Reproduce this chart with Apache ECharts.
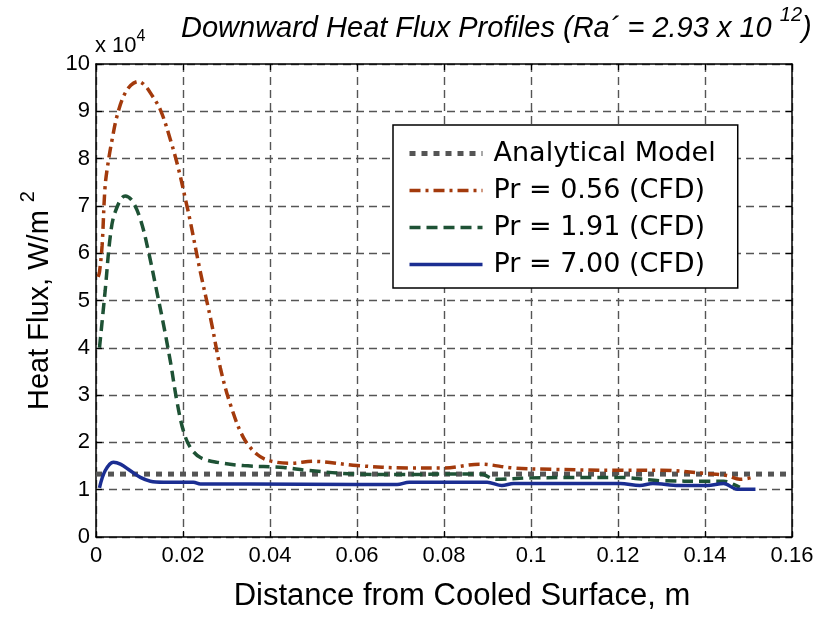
<!DOCTYPE html>
<html>
<head>
<meta charset="utf-8">
<script src="https://cdn.jsdelivr.net/npm/echarts@6/dist/echarts.min.js"></script>
<style>html,body{margin:0;padding:0;background:#fff;}#c{width:823px;height:617px;}</style>
</head>
<body>
<div id="c"></div>
<script>
var xTicks = [0, 0.02, 0.04, 0.06, 0.08, 0.1, 0.12, 0.14, 0.16];
var yTicks = [0, 1, 2, 3, 4, 5, 6, 7, 8, 9, 10];

var analyticalX = [0, 0.16];
var analyticalY = [1.33, 1.33];

var pr056X = [0.0005, 0.0008, 0.0014, 0.0021, 0.0029, 0.0037, 0.0048, 0.0063, 0.0080, 0.0098, 0.0112, 0.0125, 0.0148, 0.0171, 0.0190, 0.0209, 0.0217, 0.0240, 0.0265, 0.0286, 0.0309, 0.0339, 0.0370, 0.0400, 0.0447, 0.0500, 0.0600, 0.0715, 0.0800, 0.0883, 0.0959, 0.1050, 0.1200, 0.1300, 0.1405, 0.1450, 0.1480, 0.1510];
var pr056Y = [5.5, 5.6, 6.16, 7.42, 7.98, 8.40, 8.89, 9.31, 9.55, 9.63, 9.55, 9.39, 9.03, 8.40, 7.77, 7.0, 6.66, 5.6, 4.55, 3.57, 2.80, 2.10, 1.75, 1.61, 1.56, 1.60, 1.51, 1.46, 1.46, 1.54, 1.46, 1.43, 1.41, 1.41, 1.34, 1.30, 1.22, 1.26];

var pr191X = [0.0008, 0.0021, 0.0033, 0.0044, 0.0067, 0.0083, 0.0102, 0.0121, 0.0140, 0.0155, 0.0171, 0.0186, 0.0201, 0.0217, 0.0240, 0.0278, 0.0339, 0.0431, 0.0485, 0.0600, 0.0715, 0.0800, 0.0883, 0.0920, 0.1000, 0.1200, 0.1300, 0.1405, 0.1443, 0.1466, 0.1480];
var pr191Y = [4.0, 5.2, 6.37, 6.87, 7.21, 7.11, 6.72, 6.02, 5.18, 4.50, 3.71, 2.87, 2.24, 1.89, 1.68, 1.58, 1.51, 1.47, 1.41, 1.33, 1.32, 1.33, 1.33, 1.22, 1.25, 1.26, 1.19, 1.18, 1.18, 1.11, 1.05];

var pr700X = [0.0008, 0.0021, 0.0040, 0.0056, 0.0079, 0.0102, 0.0125, 0.0155, 0.0224, 0.0240, 0.0355, 0.0600, 0.0692, 0.0720, 0.0899, 0.0933, 0.0960, 0.1000, 0.1205, 0.1250, 0.1280, 0.1340, 0.1405, 0.1443, 0.1474, 0.1516];
var pr700Y = [1.04, 1.40, 1.58, 1.54, 1.40, 1.26, 1.18, 1.16, 1.16, 1.12, 1.12, 1.11, 1.11, 1.16, 1.16, 1.09, 1.13, 1.13, 1.13, 1.09, 1.13, 1.09, 1.09, 1.13, 1.01, 1.01];

var seriesNames = ['Analytical Model', 'Pr = 0.56 (CFD)', 'Pr = 1.91 (CFD)', 'Pr = 7.00 (CFD)'];

function pairs(xs, ys) { return xs.map(function (x, i) { return [x, ys[i]]; }); }

var FONT = 'Liberation Sans, Arial, sans-serif';
var gridLine = { show: true, lineStyle: { color: '#555', width: 1.4, type: [8, 5] } };
var hiddenSym = { opacity: 0, borderWidth: 0 };

var chart = echarts.init(document.getElementById('c'), null, { renderer: 'canvas' });
var option = {
  animation: false,
  backgroundColor: '#fff',
  title: {
    text: '{t|Downward Heat Flux Profiles (Ra\u00b4 = 2.93 x 10 }{s|12}{t|)}',
    left: 176, top: 0,
    textStyle: {
      fontWeight: 'normal',
      rich: {
        t: { fontFamily: FONT, fontStyle: 'italic', fontWeight: 'normal', fontSize: 29, color: '#000', lineHeight: 38, verticalAlign: 'bottom' },
        s: { fontFamily: FONT, fontStyle: 'italic', fontWeight: 'normal', fontSize: 20, color: '#000', lineHeight: 38, verticalAlign: 'top' }
      }
    }
  },
  graphic: [{
    type: 'text', left: 95, top: 29,
    style: { text: '{a|x 10}{b|4}', rich: { a: { fontFamily: FONT, fontSize: 22, fill: '#000', lineHeight: 28, verticalAlign: 'bottom' }, b: { fontFamily: FONT, fontSize: 16, fill: '#000', lineHeight: 28, verticalAlign: 'top' } } }
  }],
  grid: { left: 96, right: 31, top: 64, bottom: 77, containLabel: false },
  legend: {
    orient: 'vertical', left: 393, top: 125,
    padding: [15, 22, 10, 14],
    itemGap: 10, itemWidth: 73, itemHeight: 14,
    backgroundColor: '#fff', borderColor: '#000', borderWidth: 1.5,
    textStyle: { fontFamily: 'DejaVu Sans', fontSize: 27, color: '#000', lineHeight: 27, padding: [0, 0, 0, 6] },
    data: [
      { name: seriesNames[0], itemStyle: hiddenSym, lineStyle: { width: 5, type: [6, 6], color: '#555' } },
      { name: seriesNames[1], itemStyle: hiddenSym, lineStyle: { width: 3.5, type: [11, 5, 3, 5], color: '#a33a0c' } },
      { name: seriesNames[2], itemStyle: hiddenSym, lineStyle: { width: 3.5, type: [11, 6], color: '#1e5235' } },
      { name: seriesNames[3], itemStyle: hiddenSym, lineStyle: { width: 3.5, type: 'solid', color: '#1b2e92' } }
    ]
  },
  xAxis: [{
    type: 'value', min: 0, max: 0.16, interval: 0.02,
    name: 'Distance from Cooled Surface, m', nameLocation: 'middle', nameGap: 44,
    nameTextStyle: { fontFamily: FONT, fontSize: 31, color: '#000', padding: [0, 0, 0, 36] },
    axisLine: { show: true, onZero: false, lineStyle: { color: '#000', width: 1.5 } },
    axisTick: { show: true, inside: true, length: 6, lineStyle: { color: '#000', width: 1.2 } },
    axisLabel: { fontFamily: FONT, fontSize: 22, color: '#000', margin: 8, formatter: function (v) { return String(+v.toFixed(2)); } },
    splitLine: gridLine
  }, {
    type: 'value', min: 0, max: 0.16, interval: 0.02, position: 'top',
    axisLine: { show: true, onZero: false, lineStyle: { color: '#000', width: 1.5 } },
    axisTick: { show: true, inside: true, length: 6, lineStyle: { color: '#000', width: 1.2 } },
    axisLabel: { show: false }, splitLine: { show: false }
  }],
  yAxis: [{
    type: 'value', min: 0, max: 10, interval: 1,
    name: '{a|Heat Flux, W/m }{b|2}', nameLocation: 'middle', nameGap: 42, nameRotate: 90,
    nameTextStyle: { rich: { a: { fontFamily: FONT, fontSize: 29, color: '#000', lineHeight: 36, verticalAlign: 'bottom' }, b: { fontFamily: FONT, fontSize: 20, color: '#000', lineHeight: 36, verticalAlign: 'top' } } },
    axisLine: { show: true, onZero: false, lineStyle: { color: '#000', width: 1.5 } },
    axisTick: { show: true, inside: true, length: 6, lineStyle: { color: '#000', width: 1.2 } },
    axisLabel: { fontFamily: FONT, fontSize: 22, color: '#000', margin: 6 },
    splitLine: gridLine
  }, {
    type: 'value', min: 0, max: 10, interval: 1, position: 'right',
    axisLine: { show: true, onZero: false, lineStyle: { color: '#000', width: 1.5 } },
    axisTick: { show: true, inside: true, length: 6, lineStyle: { color: '#000', width: 1.2 } },
    axisLabel: { show: false }, splitLine: { show: false }
  }],
  series: [
    { name: seriesNames[0], type: 'line', xAxisIndex: 0, yAxisIndex: 0, showSymbol: false, symbol: 'none',
      data: pairs(analyticalX, analyticalY), lineStyle: { color: '#555', width: 5, type: [6, 6], cap: 'butt' }, itemStyle: { color: '#555' } },
    { name: seriesNames[1], type: 'line', xAxisIndex: 0, yAxisIndex: 0, symbol: 'none', smooth: 0.35,
      data: pairs(pr056X, pr056Y), lineStyle: { color: '#a33a0c', width: 3.5, type: [11, 5, 3, 5] }, itemStyle: { color: '#a33a0c' } },
    { name: seriesNames[2], type: 'line', xAxisIndex: 0, yAxisIndex: 0, symbol: 'none', smooth: 0.35,
      data: pairs(pr191X, pr191Y), lineStyle: { color: '#1e5235', width: 3.5, type: [11, 6] }, itemStyle: { color: '#1e5235' } },
    { name: seriesNames[3], type: 'line', xAxisIndex: 0, yAxisIndex: 0, symbol: 'none', smooth: 0.35,
      data: pairs(pr700X, pr700Y), lineStyle: { color: '#1b2e92', width: 3.5, type: 'solid' }, itemStyle: { color: '#1b2e92' } }
  ]
};
chart.setOption(option);
</script>
</body>
</html>
